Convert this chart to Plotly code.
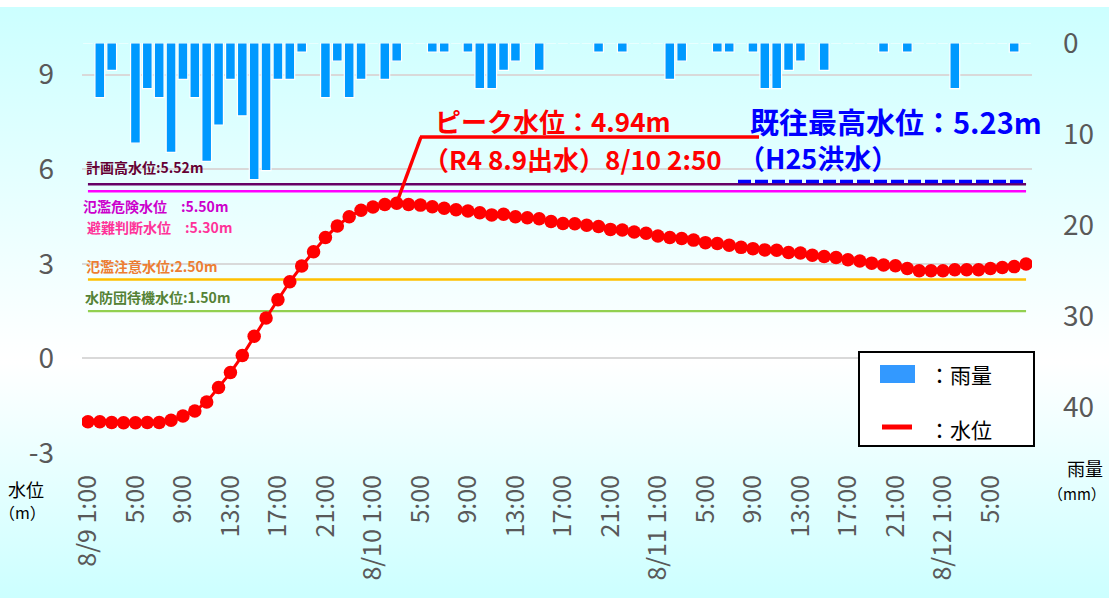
import base64
import datetime as dt
import plotly.graph_objects as go

# ---------------- data ----------------
start = dt.datetime(2022, 8, 9, 1)
categories = [(start + dt.timedelta(hours=k)) for k in range(80)]
categories = [f"{t.month}/{t.day} {t.hour}:00" for t in categories]

tick_text = ["8/9 1:00", "5:00", "9:00", "13:00", "17:00", "21:00",
             "8/10 1:00", "5:00", "9:00", "13:00", "17:00", "21:00",
             "8/11 1:00", "5:00", "9:00", "13:00", "17:00", "21:00",
             "8/12 1:00", "5:00"]

left_ticks = [-3, 0, 3, 6, 9]
left_tick_text = ["-3", "0", "3", "6", "9"]
right_ticks = [0, 10, 20, 30, 40]

rain_mm = [0, 6, 3, 0, 11, 5, 6, 12, 4, 6,
           13, 9, 4, 8, 15, 14, 4, 4, 1, 0,
           6, 2, 6, 4, 0, 4, 2, 0, 0, 1,
           1, 0, 1, 5, 5, 3, 2, 0, 3, 0,
           0, 0, 0, 1, 0, 1, 0, 0, 0, 4,
           2, 0, 0, 1, 1, 0, 1, 5, 5, 3,
           2, 0, 3, 0, 0, 0, 0, 1, 0, 1,
           0, 0, 0, 5, 0, 0, 0, 0, 1, 0]

water_level = [-2.01, -2.01, -2.03, -2.04, -2.04, -2.03, -2.03, -1.96, -1.83, -1.67,
               -1.38, -0.92, -0.45, 0.09, 0.70, 1.28, 1.86, 2.43, 2.93, 3.38,
               3.83, 4.20, 4.49, 4.70, 4.80, 4.88, 4.92, 4.88, 4.86, 4.81,
               4.76, 4.71, 4.67, 4.62, 4.55, 4.57, 4.49, 4.46, 4.43, 4.34,
               4.28, 4.27, 4.22, 4.18, 4.09, 4.07, 4.01, 3.97, 3.88, 3.83,
               3.80, 3.75, 3.67, 3.64, 3.59, 3.52, 3.48, 3.44, 3.43, 3.36,
               3.34, 3.27, 3.23, 3.20, 3.13, 3.09, 3.02, 2.96, 2.94, 2.85,
               2.78, 2.78, 2.78, 2.81, 2.81, 2.81, 2.85, 2.88, 2.91, 2.99]

ref_values = [5.52, 5.30, 2.50, 1.50]
ref_colors = ["#660066", "#FF00FF", "#FFC000", "#92D050"]

FONT = "Noto Sans CJK JP"
TICK = "#595959"

# ---------------- geometry helpers (pixels -> paper) ----------------
W, H = 1109, 598
ML, MR, MT, MB = 82, 77, 43, 145
PW, PH = W - ML - MR, H - MT - MB


def px(x):
    return (x - ML) / PW


def py(y):
    return (H - MB - y) / PH


fig = go.Figure()

fig.add_trace(go.Bar(
    x=categories, y=rain_mm, yaxis="y2", width=0.82,
    marker=dict(color="#0099FF", line=dict(color="white", width=1.2)),
    showlegend=False, hoverinfo="skip"))

for v, c in zip(ref_values, ref_colors):
    fig.add_trace(go.Scatter(
        x=categories, y=[v] * len(categories), mode="lines",
        line=dict(color=c, width=2.4), showlegend=False, hoverinfo="skip"))

fig.add_trace(go.Scatter(
    x=categories, y=water_level, mode="lines+markers",
    line=dict(color="#FF0000", width=3),
    marker=dict(color="#FF0000", size=13.5),
    showlegend=False))

# ---------------- background gradient ----------------
svg = ('<svg xmlns="http://www.w3.org/2000/svg" width="100" height="100" preserveAspectRatio="none">'
       '<defs><linearGradient id="g" x1="0" y1="0" x2="0" y2="1">'
       '<stop offset="0" stop-color="#CCFFFF"/>'
       '<stop offset="0.6" stop-color="#FFFFFF"/>'
       '<stop offset="1" stop-color="#CCFFFF"/>'
       '</linearGradient></defs>'
       '<rect width="100" height="100" fill="url(#g)"/></svg>')
src = "data:image/svg+xml;base64," + base64.b64encode(svg.encode()).decode()

images = [dict(source=src, xref="paper", yref="paper",
               x=px(0), y=py(7), sizex=px(W) - px(0), sizey=py(7) - py(H),
               xanchor="left", yanchor="top", sizing="stretch", layer="below")]

# ---------------- annotations ----------------
ann = []


def txt(s, x, y, color, size, bold=False, xanchor="left"):
    if bold:
        s = "<b>" + s + "</b>"
    ann.append(dict(text=s, x=px(x), y=py(y), xref="paper", yref="paper",
                    xanchor=xanchor, yanchor="middle", showarrow=False,
                    font=dict(family=FONT, size=size, color=color)))


txt("計画高水位:5.52m", 84, 167, "#660033", 14, True)
txt("氾濫危険水位\u3000:5.50m", 81, 206, "#CC00CC", 14, True)
txt("避難判断水位\u3000:5.30m", 85, 227, "#FF3399", 14, True)
txt("氾濫注意水位:2.50m", 84, 266, "#ED7D31", 14, True)
txt("水防団待機水位:1.50m", 83, 297, "#548235", 14, True)

txt("ピーク水位：4.94m", 433, 121, "#FF0000", 26, True)
txt("（R4 8.9出水）8/10 2:50", 421, 158, "#FF0000", 26, True)
txt("既往最高水位：5.23m", 748, 121, "#0000FF", 29, True)
txt("（H25洪水）", 736, 157, "#0000FF", 27, True)

txt("水位", 26, 489, "#000000", 18, False, "center")
txt("（m）", 22, 512, "#000000", 16, False, "center")
txt("雨量", 1085, 468, "#000000", 18, False, "center")
txt("（mm）", 1108, 493, "#000000", 15, False, "right")

txt("：雨量", 927, 374, "#000000", 21)
txt("：水位", 927, 429, "#000000", 21)

# ---------------- shapes ----------------
shapes = [
    # peak leader line
    dict(type="line", xref="paper", yref="paper", x0=px(397), y0=py(202), x1=px(421), y1=py(137),
         line=dict(color="#FF0000", width=3.5)),
    dict(type="line", xref="paper", yref="paper", x0=px(420), y0=py(137), x1=px(759), y1=py(137),
         line=dict(color="#FF0000", width=3.5)),
    # historical max dashed
    dict(type="line", xref="paper", yref="paper", x0=px(738), y0=py(181.5), x1=px(1023), y1=py(181.5),
         line=dict(color="#0000FF", width=3.5, dash="13px,4px")),
    # legend box
    dict(type="rect", xref="paper", yref="paper", x0=px(859), y0=py(352), x1=px(1034), y1=py(446),
         fillcolor="white", line=dict(color="black", width=2)),
    dict(type="rect", xref="paper", yref="paper", x0=px(880), y0=py(365), x1=px(915), y1=py(383),
         fillcolor="#3399FF", line=dict(width=0)),
    dict(type="line", xref="paper", yref="paper", x0=px(882), y0=py(427), x1=px(912), y1=py(427),
         line=dict(color="#FF0000", width=5)),
]

fig.update_layout(
    width=W, height=H,
    margin=dict(l=ML, r=MR, t=MT, b=MB),
    paper_bgcolor="white", plot_bgcolor="rgba(0,0,0,0)",
    font=dict(family=FONT),
    images=images, annotations=ann, shapes=shapes,
    xaxis=dict(type="category", range=[-0.5, 79.5],
               tickmode="array", tickvals=categories[::4], ticktext=tick_text,
               tickangle=-90, tickfont=dict(family=FONT, size=25, color=TICK),
               showgrid=False, showline=False, zeroline=False, ticks="",
               ticklabelstandoff=16),
    yaxis=dict(range=[-3, 10], tickmode="array", tickvals=left_ticks, ticktext=left_tick_text,
               showgrid=True, gridcolor="#D9D9D9", gridwidth=1.5,
               zeroline=False, showline=False, ticks="",
               tickfont=dict(family=FONT, size=28, color=TICK),
               ticklabelstandoff=27),
    yaxis2=dict(overlaying="y", side="right", range=[45, 0],
                tickmode="array", tickvals=right_ticks,
                showgrid=False, zeroline=False, showline=False, ticks="",
                tickfont=dict(family=FONT, size=28, color=TICK),
                ticklabelstandoff=30),
)

fig.write_html("out.html", config={"displayModeBar": False},
               post_script="document.body.style.margin='0px';document.body.style.overflow='hidden';")
